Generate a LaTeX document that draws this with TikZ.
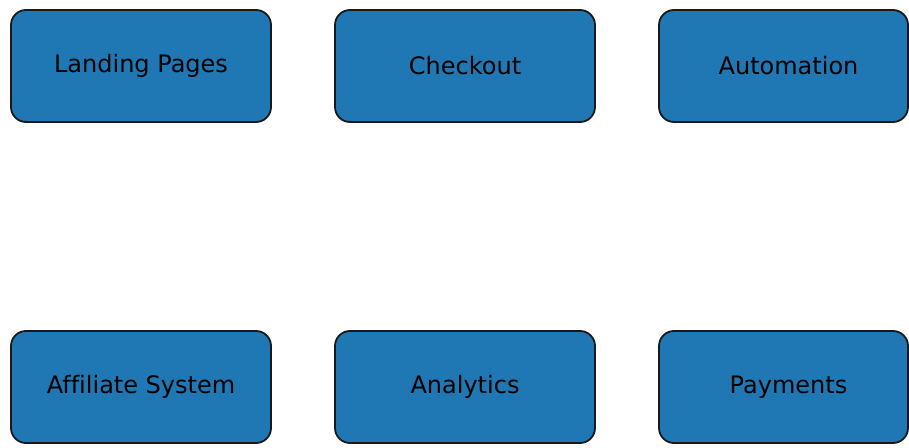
\documentclass[tikz,border=0pt]{standalone}
\usepackage{fontspec}
\setmainfont[Ligatures=NoCommon]{DejaVu Sans}
\usetikzlibrary{positioning}
\definecolor{boxblue}{RGB}{31,119,180}
\tikzset{
    block/.style = {draw = black!90, line width = 1.8pt, fill = boxblue, rounded corners = 15pt,
                    minimum width = 260pt, minimum height = 112pt, inner sep = 0pt,
                    font = \fontsize{24}{28}\selectfont}
}
\begin{document}
\begin{tikzpicture}[x = 1pt, y = 1pt]

            % Canvas
            \useasboundingbox (0,0) rectangle (909,447);
            % Top row
            \node[block] (landing) at (141,381) {Landing Pages};
            \node[block] (checkout) at (465,381) {Checkout};
            \node[block, minimum width = 249pt] (automation) at (783.5,381) {\hspace*{10pt}Automation};
            % Bottom row
            \node[block] (affiliate) at (141,60) {Affiliate System};
            \node[block] (analytics) at (465,60) {Analytics};
            \node[block, minimum width = 249pt] (payments) at (783.5,60) {\hspace*{10pt}Payments};
        \end{tikzpicture}
\end{document}
